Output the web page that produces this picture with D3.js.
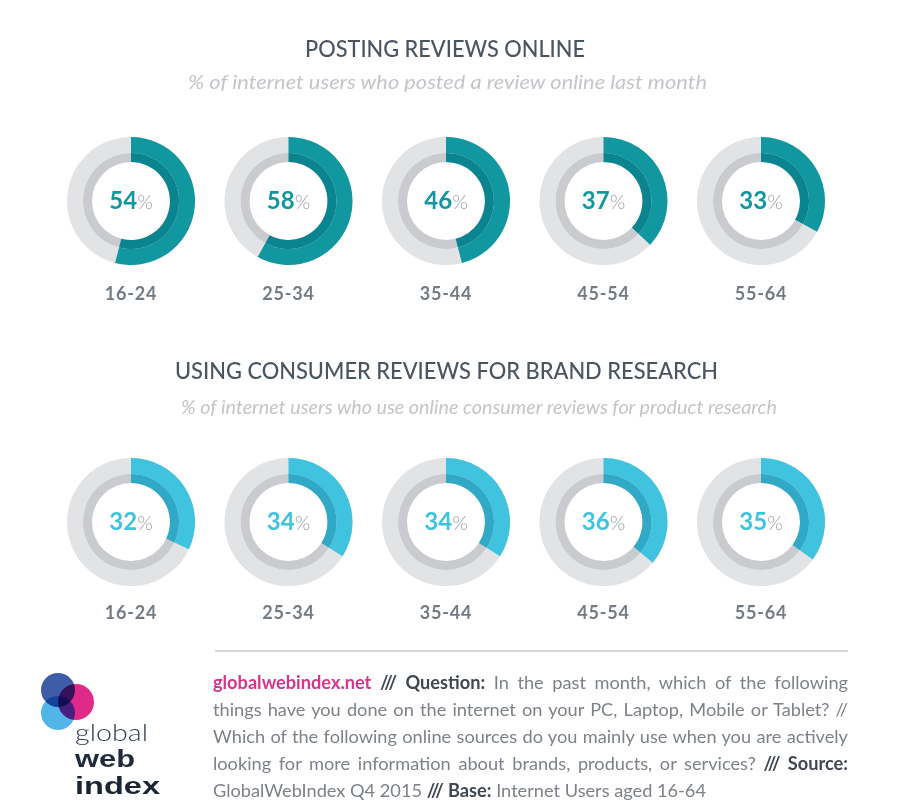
<!DOCTYPE html>
<html>
<head>
<meta charset="utf-8">
<script src="https://cdn.jsdelivr.net/npm/d3@7"></script>
<style>
  html, body { margin: 0; padding: 0; background: #ffffff; }
  #wrap { position: relative; width: 900px; height: 810px; overflow: hidden; }
  svg { position: absolute; left: 0; top: 0; }
  #footer { position: absolute; left: 213px; top: 669px; width: 635px;
    font-family: Lato, "Open Sans", sans-serif; font-size: 18.2px; line-height: 27px; color: #7d8288; }
  #footer .ln { text-align: justify; text-align-last: justify; white-space: nowrap; }
  #footer .ln.last { text-align-last: left; }
  #footer b { color: #3f4751; font-weight: 700; }
  #footer .pink { color: #d8348b; font-weight: 700; }
</style>
</head>
<body>
<div id="wrap">
<svg id="chart" width="900" height="810"></svg>
<div id="footer"></div>
</div>
<script>
// ---------- data ----------
const ageGroups = ["16-24", "25-34", "35-44", "45-54", "55-64"];
const postingValues = [54, 58, 46, 37, 33];
const researchValues = [32, 34, 34, 36, 35];
const title1 = "POSTING REVIEWS ONLINE";
const subtitle1 = "% of internet users who posted a review online last month";
const title2 = "USING CONSUMER REVIEWS FOR BRAND RESEARCH";
const subtitle2 = "% of internet users who use online consumer reviews for product research";
const logoWords = ["global", "web", "index"];
const footerLines = [
  [["pink","globalwebindex.net"],["t"," "],["b","///"],["t"," "],["b","Question:"],["t"," In the past month, which of the following"]],
  [["t","things have you done on the internet on your PC, Laptop, Mobile or Tablet? //"]],
  [["t","Which of the following online sources do you mainly use when you are actively"]],
  [["t","looking for more information about brands, products, or services? "],["b","/// Source:"]],
  [["t","GlobalWebIndex Q4 2015 "],["b","/// Base:"],["t"," Internet Users aged 16-64"]]
];

// ---------- layout ----------
const svg = d3.select("#chart");
const font = "Lato, 'Open Sans', sans-serif";

const x = d3.scalePoint().domain(ageGroups).range([131, 761]);
const pct = d3.scaleLinear().domain([0, 100]).range([0, 2 * Math.PI]);

const rows = [
  { values: postingValues, cy: 201, labelY: 300, outer: "#10979f", inner: "#0a8590" },
  { values: researchValues, cy: 522, labelY: 619, outer: "#3fc3df", inner: "#30a9c6" }
];

const arcOuter = d3.arc().innerRadius(48).outerRadius(64);
const arcInner = d3.arc().innerRadius(39).outerRadius(48);

// titles
function addTitle(text, xPos, y, size, color, italic, len) {
  svg.append("text")
    .attr("x", xPos).attr("y", y)
    .attr("font-family", font)
    .attr("font-size", size)
    .attr("font-style", italic ? "italic" : "normal")
    .attr("font-weight", italic ? 400 : 500)
    .attr("fill", color)
    .attr("textLength", len)
    .attr("lengthAdjust", "spacingAndGlyphs")
    .text(text);
}
addTitle(title1, 305, 57, 23, "#4b5560", false, 280);
addTitle(subtitle1, 188, 89, 19, "#c3c5c9", true, 519);
addTitle(title2, 175, 379, 23, "#4b5560", false, 543);
addTitle(subtitle2, 181, 414, 19, "#c3c5c9", true, 596);

rows.forEach(row => {
  const g = svg.append("g");
  const cells = g.selectAll("g.donut")
    .data(ageGroups.map((a, i) => ({ age: a, v: row.values[i] })))
    .join("g")
    .attr("class", "donut")
    .attr("transform", d => `translate(${x(d.age)},${row.cy})`);

  // tracks
  cells.append("path")
    .attr("d", arcOuter({ startAngle: 0, endAngle: 2 * Math.PI }))
    .attr("fill", "#e2e3e5");
  cells.append("path")
    .attr("d", arcInner({ startAngle: 0, endAngle: 2 * Math.PI }))
    .attr("fill", "#cacbce");
  // values
  cells.append("path")
    .attr("d", d => arcOuter({ startAngle: 0, endAngle: pct(d.v) }))
    .attr("fill", row.outer);
  cells.append("path")
    .attr("d", d => arcInner({ startAngle: 0, endAngle: pct(d.v) }))
    .attr("fill", row.inner);

  // centre value
  const t = cells.append("text")
    .attr("text-anchor", "middle")
    .attr("y", 8)
    .attr("font-family", font);
  t.append("tspan")
    .attr("font-size", 24)
    .attr("font-weight", 700)
    .attr("fill", row.outer)
    .text(d => d.v);
  t.append("tspan")
    .attr("font-size", 20)
    .attr("font-weight", 300)
    .attr("fill", "#9aa0a6")
    .text("%");

  // age label
  g.selectAll("text.age")
    .data(ageGroups)
    .join("text")
    .attr("class", "age")
    .attr("x", d => x(d))
    .attr("y", row.labelY)
    .attr("text-anchor", "middle")
    .attr("font-family", font)
    .attr("font-size", 18)
    .attr("font-weight", 700)
    .attr("letter-spacing", 0.8)
    .attr("fill", "#737b84")
    .text(d => d);
});

// separator line
svg.append("line")
  .attr("x1", 215).attr("x2", 848)
  .attr("y1", 651).attr("y2", 651)
  .attr("stroke", "#d6d8db").attr("stroke-width", 2);

// logo
const logo = svg.append("g");
const circles = [
  { cx: 58, cy: 690, r: 17, c: "#3f5ca9" },
  { cx: 76, cy: 702, r: 18, c: "#df2a8a" },
  { cx: 58, cy: 713, r: 17, c: "#52b5ea" }
];
logo.selectAll("circle").data(circles).join("circle")
  .attr("cx", d => d.cx).attr("cy", d => d.cy).attr("r", d => d.r)
  .attr("fill", d => d.c)
  .style("mix-blend-mode", "multiply");
const logoStyles = [
  { y: 740.5, size: 23.5, weight: 300, fill: "#33404f", len: 73, fam: "Lato, sans-serif" },
  { y: 767, size: 23.5, weight: 700, fill: "#1f2b3a", len: 60, fam: "'Liberation Sans', Arial, sans-serif" },
  { y: 794, size: 24, weight: 900, fill: "#1a2534", len: 85, fam: "'Liberation Sans', Arial, sans-serif" }
];
const logoText = logo.append("text");
logoWords.forEach((w, i) => {
  const s = logoStyles[i];
  logoText.append("tspan")
    .attr("x", 75).attr("y", s.y)
    .attr("font-family", s.fam).attr("font-size", s.size)
    .attr("font-weight", s.weight).attr("fill", s.fill)
    .attr("textLength", s.len).attr("lengthAdjust", "spacingAndGlyphs")
    .text(w);
});

// footer paragraph
const footer = d3.select("#footer");
footerLines.forEach((parts, i) => {
  const ln = footer.append("div").attr("class", "ln" + (i === footerLines.length - 1 ? " last" : ""));
  parts.forEach(([k, s]) => {
    if (k === "t") ln.append("span").text(s);
    else if (k === "b") ln.append("b").text(s);
    else ln.append("span").attr("class", "pink").text(s);
  });
});
</script>
</body>
</html>
